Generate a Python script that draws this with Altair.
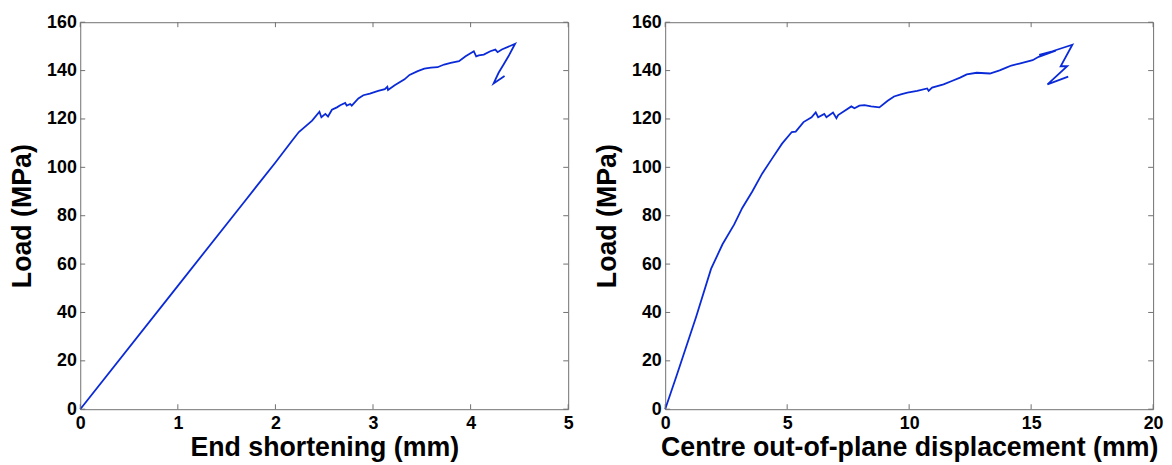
import altair as alt
import pandas as pd

# ---- data ----
end_x = [0, 1.0, 1.684, 2.0, 2.174, 2.24, 2.376, 2.451, 2.471, 2.512, 2.539, 2.579, 2.630,
         2.664, 2.715, 2.731, 2.766, 2.782, 2.850, 2.901, 2.968, 3.053, 3.121, 3.147, 3.154,
         3.222, 3.323, 3.374, 3.458, 3.526, 3.594, 3.661, 3.729, 3.796, 3.881, 3.949, 4.033,
         4.057, 4.084, 4.135, 4.202, 4.253, 4.277, 4.320, 4.456, 4.388, 4.338, 4.287, 4.236,
         4.348]
end_load = [0, 51.0, 85.9, 102.0, 111.2, 114.6, 119.3, 123.0, 120.7, 122.1, 121.0, 123.8, 124.8,
            125.7, 126.6, 125.5, 126.2, 125.5, 128.5, 129.8, 130.5, 131.6, 132.3, 133.3, 132.0,
            133.9, 136.4, 138.2, 139.8, 140.8, 141.2, 141.4, 142.5, 143.2, 143.9, 145.9, 148.0,
            145.9, 146.3, 146.6, 148.0, 148.7, 147.6, 148.7, 151.1, 145.9, 142.5, 139.1, 134.7,
            137.8]

disp_x = [0, 0.46, 1.27, 1.88, 2.35, 2.83, 3.16, 3.57, 3.98, 4.38, 4.79, 5.19, 5.35, 5.67,
          6.00, 6.17, 6.27, 6.52, 6.61, 6.88, 7.02, 7.09, 7.36, 7.63, 7.76, 7.96, 8.17, 8.44,
          8.78, 9.12, 9.38, 9.66, 9.93, 10.33, 10.74, 10.80, 10.94, 11.41, 11.75, 12.09, 12.36,
          12.77, 13.31, 13.71, 13.98, 14.19, 14.52, 15.06, 15.31, 16.01, 15.33, 15.87, 16.69,
          16.21, 16.48, 15.67, 16.52]
disp_load = [0, 13.6, 38.2, 58.0, 68.2, 76.4, 83.2, 90.0, 97.5, 103.6, 109.8, 114.6, 114.8, 118.7,
             120.7, 122.7, 120.7, 122.1, 120.7, 122.7, 120.3, 121.6, 123.4, 125.2, 124.4, 125.5,
             125.7, 125.2, 124.8, 127.5, 129.3, 130.2, 130.9, 131.6, 132.6, 131.6, 133.0, 134.3,
             135.7, 137.1, 138.4, 139.1, 138.8, 140.1, 141.2, 142.1, 142.9, 144.3, 145.7, 148.2,
             146.5, 148.0, 150.7, 141.8, 141.8, 134.3, 137.5]

end_xticks = [0, 1, 2, 3, 4, 5]
disp_xticks = [0, 5, 10, 15, 20]
load_ticks = [0, 20, 40, 60, 80, 100, 120, 140, 160]

W, H = 493, 391
FRAME = "#707070"
BLUE = "#0a2ad8"
FONT = "Liberation Sans"
TICK = 5


def panel(xs, ys, xticks, xmax, xtitle):
    df = pd.DataFrame({"x": xs, "load": ys, "i": list(range(len(xs)))})
    xscale = alt.Scale(domain=[0, xmax], nice=False, zero=False)
    yscale = alt.Scale(domain=[0, 160], nice=False, zero=False)
    xaxis = alt.Axis(values=xticks, title=xtitle, format="d", labelPadding=5,
                     titlePadding=3, labelFlush=False, labelOverlap=False)
    yaxis = alt.Axis(values=load_ticks, title="Load (MPa)", format="d",
                     labelPadding=4, titlePadding=10, labelOverlap=False)
    X = lambda: alt.X("x:Q", scale=xscale, axis=xaxis)
    Y = lambda: alt.Y("load:Q", scale=yscale, axis=yaxis)
    line = alt.Chart(df).mark_line(color=BLUE, strokeWidth=1.8).encode(
        x=X(), y=Y(), order="i:Q")
    xt = pd.DataFrame({"x": xticks})
    yt = pd.DataFrame({"load": load_ticks})
    tb = alt.Chart(xt).mark_rule(color=FRAME).encode(
        x=X(), y=alt.value(H), y2=alt.value(H - TICK))
    tt = alt.Chart(xt).mark_rule(color=FRAME).encode(
        x=X(), y=alt.value(0), y2=alt.value(TICK))
    tl = alt.Chart(yt).mark_rule(color=FRAME).encode(
        y=Y(), x=alt.value(0), x2=alt.value(TICK))
    tr = alt.Chart(yt).mark_rule(color=FRAME).encode(
        y=Y(), x=alt.value(W), x2=alt.value(W - TICK))
    return alt.layer(line, tb, tt, tl, tr).properties(width=W, height=H)


left = panel(end_x, end_load, end_xticks, 5, "End shortening (mm)")
right = panel(disp_x, disp_load, disp_xticks, 20, "Centre out-of-plane displacement (mm)")

chart = alt.hconcat(left, right, spacing=19).properties(
    padding={"left": 0, "top": 2, "right": 0, "bottom": 0},
    background="white",
).configure_view(
    stroke=FRAME, strokeWidth=1
).configure_axis(
    grid=False, ticks=False, domain=False,
    labelFont=FONT, labelFontSize=18, labelFontWeight="bold", labelColor="black",
    titleFont=FONT, titleFontSize=27, titleFontWeight="bold", titleColor="black",
)

chart.save("out.html", embed_options={"renderer": "svg", "actions": False})
